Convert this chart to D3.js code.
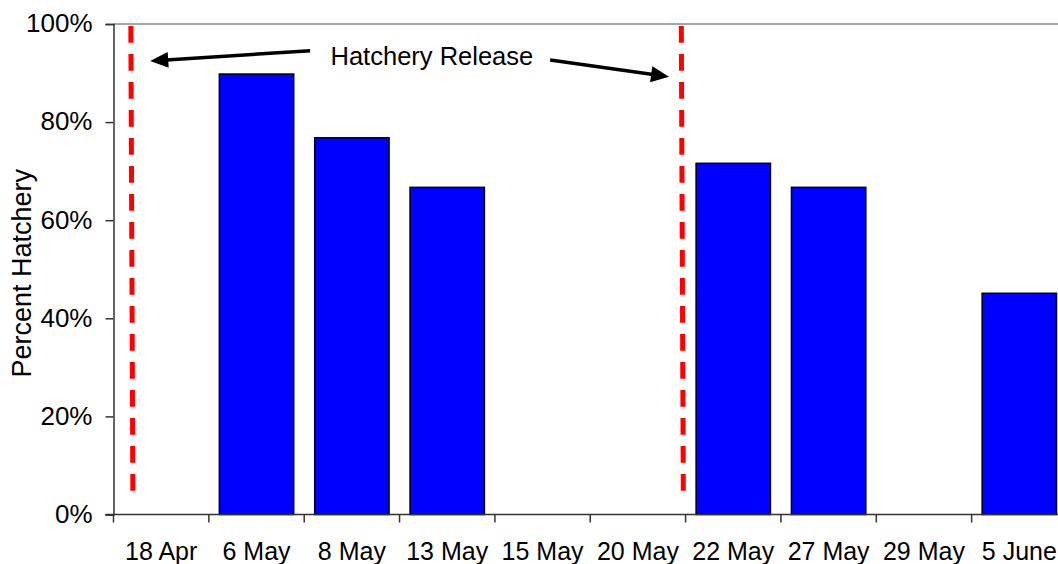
<!DOCTYPE html>
<html>
<head>
<meta charset="utf-8">
<script src="https://cdn.jsdelivr.net/npm/d3@7"></script>
<style>
  body { margin: 0; background: #fff; }
  svg { display: block; font-family: "Liberation Sans", Arial, sans-serif; }
</style>
</head>
<body>
<div id="my_dataviz"></div>
<script>
// sampling dates and percent hatchery fish (0-1), null = no bar
var dates = ["18 Apr", "6 May", "8 May", "13 May", "15 May", "20 May", "22 May", "27 May", "29 May", "5 June"];
var pctHatchery = [null, 0.898, 0.768, 0.667, null, null, 0.716, 0.667, null, 0.451];
var yTicks = [0, 0.2, 0.4, 0.6, 0.8, 1.0];

// hatchery release markers, in category-index units (top, bottom)
var releaseTop = [0.182, 5.955];
var releaseBottom = [0.203, 5.976];
var releaseSpan = [0.996, 0.048];

// annotation: label and arrows in (category index, percent) units
var noteText = "Hatchery Release";
var notePos = [3.339, 0.916];
var arrowTails = [[2.062, 0.9455], [4.579, 0.9266]];
var arrowTips = [[0.385, 0.9245], [5.826, 0.8925]];

var width = 1058, height = 564;
var plot = {left: 113.5, right: 1067, top: 24, bottom: 514.5};

var svg = d3.select("#my_dataviz")
  .append("svg")
    .attr("width", width)
    .attr("height", height);

/** scales */
var x = d3.scaleBand()
  .domain(dates)
  .range([plot.left, plot.right])
  .paddingInner(0.22)
  .paddingOuter(0.11);
var xi = d3.scaleLinear()
  .domain([0, dates.length])
  .range([plot.left, plot.right]);
var y = d3.scaleLinear()
  .domain([0, 1])
  .range([plot.bottom, plot.top]);

/** top border of plot area */
svg.append("line")
  .attr("x1", plot.left).attr("x2", plot.right)
  .attr("y1", y(1)).attr("y2", y(1))
  .attr("stroke", "#888").attr("stroke-width", 1.5);

/** bars */
svg.selectAll("myBars")
  .data(dates.map(function(d, i) { return {date: d, value: pctHatchery[i]}; })
             .filter(function(d) { return d.value != null; }))
  .enter()
  .append("rect")
    .attr("x", function(d) { return x(d.date); })
    .attr("y", function(d) { return y(d.value); })
    .attr("width", x.bandwidth())
    .attr("height", function(d) { return y(0) - y(d.value); })
    .attr("fill", "#0000ff")
    .attr("stroke", "#000")
    .attr("stroke-width", 1.5);

/** y axis */
var yAxis = svg.append("g")
  .attr("transform", "translate(" + plot.left + ",0)")
  .call(d3.axisLeft(y).tickValues(yTicks).tickFormat(d3.format(".0%")).tickSize(8).tickPadding(13));
yAxis.select(".domain").attr("stroke", "#333").attr("stroke-width", 1.5);
yAxis.selectAll(".tick line").attr("stroke", "#333").attr("stroke-width", 1.5);
yAxis.selectAll("text")
  .style("font-size", "26px")
  .style("font-family", "'Liberation Sans', Arial, sans-serif")
  .attr("fill", "#000")
  .attr("dy", "0.3em");

/** x axis with ticks between categories */
var xAxis = svg.append("g")
  .attr("transform", "translate(0," + plot.bottom + ")");
xAxis.append("line")
  .attr("x1", plot.left - 8).attr("x2", plot.right)
  .attr("stroke", "#333").attr("stroke-width", 1.5);
xAxis.selectAll("myTicks")
  .data(d3.range(dates.length + 1))
  .enter()
  .append("line")
    .attr("x1", function(d) { return xi(d); })
    .attr("x2", function(d) { return xi(d); })
    .attr("y1", 0).attr("y2", 8)
    .attr("stroke", "#333").attr("stroke-width", 1.5);
xAxis.selectAll("myLabels")
  .data(dates)
  .enter()
  .append("text")
    .attr("x", function(d) { return x(d) + x.bandwidth() / 2; })
    .attr("y", 45)
    .attr("text-anchor", "middle")
    .style("font-size", "25px")
    .text(function(d) { return d; });

/** y axis title */
svg.append("text")
  .attr("transform", "translate(31," + ((plot.top + plot.bottom) / 2 + 4) + ") rotate(-90)")
  .attr("text-anchor", "middle")
  .style("font-size", "27px")
  .text("Percent Hatchery");

/** red dashed release lines */
svg.selectAll("myRelease")
  .data(releaseTop)
  .enter()
  .append("line")
    .attr("x1", function(d) { return xi(d); })
    .attr("x2", function(d, i) { return xi(releaseBottom[i]); })
    .attr("y1", y(releaseSpan[0]))
    .attr("y2", y(releaseSpan[1]))
    .attr("stroke", "#ff0000")
    .attr("stroke-width", 5)
    .attr("stroke-dasharray", "16.7,11.3");

/** annotation text and arrows */
svg.append("text")
  .attr("x", xi(notePos[0]))
  .attr("y", y(notePos[1]))
  .attr("text-anchor", "middle")
  .style("font-size", "25.5px")
  .text(noteText);

var headLen = 18, headHalf = 8;
arrowTails.forEach(function(t, i) {
  var x0 = xi(t[0]), y0 = y(t[1]);
  var x1 = xi(arrowTips[i][0]), y1 = y(arrowTips[i][1]);
  var dx = x1 - x0, dy = y1 - y0, len = Math.sqrt(dx * dx + dy * dy);
  var ux = dx / len, uy = dy / len;
  var bx = x1 - ux * headLen, by = y1 - uy * headLen;
  svg.append("line")
    .attr("x1", x0).attr("y1", y0)
    .attr("x2", bx + ux * 2).attr("y2", by + uy * 2)
    .attr("stroke", "#000").attr("stroke-width", 3.5);
  svg.append("path")
    .attr("d", "M" + x1 + "," + y1 +
               "L" + (bx - uy * headHalf) + "," + (by + ux * headHalf) +
               "L" + (bx + uy * headHalf) + "," + (by - ux * headHalf) + "Z")
    .attr("fill", "#000");
});
</script>
</body>
</html>
